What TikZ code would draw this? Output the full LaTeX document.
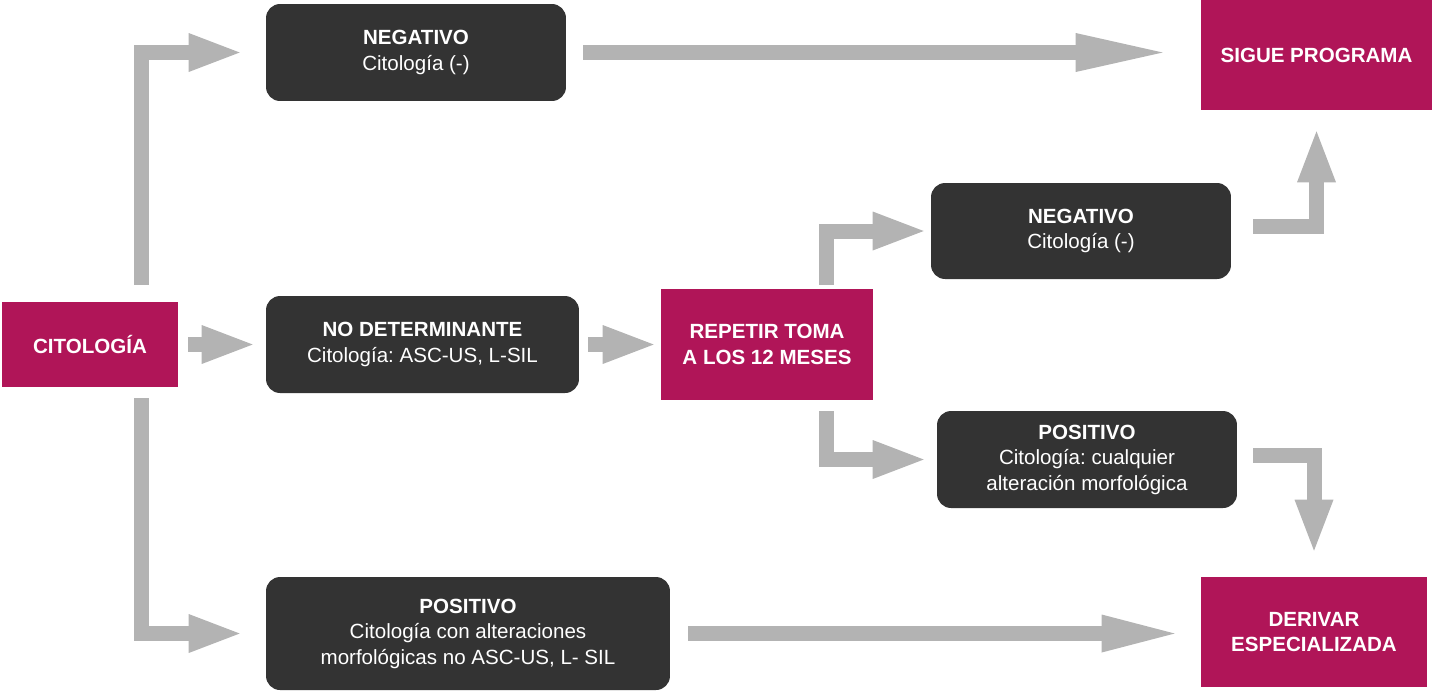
\documentclass[tikz,border=0pt]{standalone}
\usepackage{fontspec}
\setmainfont{Liberation Sans}
\usetikzlibrary{arrows.meta}
\definecolor{citomag}{RGB}{176,21,88}
\definecolor{boxdark}{RGB}{51,51,51}
\definecolor{arrgray}{RGB}{179,179,179}
\frenchspacing
\begin{document}
\begin{tikzpicture}[
  x=0.02cm, y=-0.02cm,
  result/.style={rectangle, rounded corners=0.28cm, fill=boxdark, text=white, align=center, inner sep=0pt, font=\fontsize{11.7}{14.5}\selectfont},
  action/.style={rectangle, fill=citomag, text=white, align=center, inner sep=0pt, font=\bfseries\fontsize{11.7}{14.5}\selectfont},
  flow/.style={color=arrgray, line width=0.3cm, line join=miter, -{Triangle[length=1.02cm, width=0.78cm, line width=0pt]}},
  longflow/.style={flow, -{Triangle[length=1.74cm, width=0.78cm, line width=0pt]}},
  midflow/.style={flow, -{Triangle[length=1.46cm, width=0.76cm, line width=0pt]}}
]
\useasboundingbox (0,0) rectangle (1439,691);

\node[action, minimum width=3.52cm, minimum height=1.7cm] (cito) at (90,344.5) {CITOLOGÍA};
\node[result, minimum width=6cm, minimum height=1.94cm] (neg1) at (416,52.5) {\textbf{NEGATIVO}\\Citología (-)};
\node[result, minimum width=6.26cm, minimum height=1.94cm] (nodet) at (422.5,344.5) {\textbf{NO DETERMINANTE}\\Citología: ASC-US, L-SIL};
\node[result, minimum width=8.08cm, minimum height=2.26cm] (pos1) at (468,633.5) {\textbf{POSITIVO}\\Citología con alteraciones\\morfológicas no ASC-US, L- SIL};
\node[action, minimum width=4.24cm, minimum height=2.22cm] (repetir) at (767,344.5) {REPETIR TOMA\\A LOS 12 MESES};
\node[result, minimum width=6cm, minimum height=1.92cm] (neg2) at (1081,231) {\textbf{NEGATIVO}\\Citología (-)};
\node[result, minimum width=6cm, minimum height=1.94cm] (pos2) at (1087,459.5) {\textbf{POSITIVO}\\Citología: cualquier\\alteración morfológica};
\node[action, minimum width=4.62cm, minimum height=2.2cm] (sigue) at (1316.5,55) {SIGUE PROGRAMA};
\node[action, minimum width=4.52cm, minimum height=2.2cm] (derivar) at (1314,632) {DERIVAR\\ESPECIALIZADA};

% Arrows from citologia
\draw[flow, shorten >=0.52cm] ([xshift=1.03cm, yshift=0.34cm]cito.north) |- (neg1.west);
\draw[flow, shorten <=0.2cm, shorten >=0.26cm] (cito) -- (nodet);
\draw[flow, shorten >=0.52cm] ([xshift=1.03cm, yshift=-0.22cm]cito.south) |- (pos1.west);

% Arrows to the results
\draw[longflow, shorten <=0.34cm, shorten >=0.76cm] (neg1.east) -- (neg1.east -| sigue.west);
\draw[flow, shorten <=0.18cm, shorten >=0.14cm] (nodet) -- (repetir);
\draw[flow, shorten >=0.14cm] ([xshift=1.19cm, yshift=0.08cm]repetir.north) |- (neg2.west);
\draw[flow, shorten >=0.26cm] ([xshift=1.19cm, yshift=-0.22cm]repetir.south) |- (pos2.west);
\draw[midflow, shorten <=0.36cm, shorten >=0.52cm] (pos1.east) -- (pos1.east -| derivar.west);
\draw[flow, shorten <=0.44cm, shorten >=0.42cm] ([yshift=0.09cm]neg2.east) -| (sigue.south);
\draw[flow, shorten <=0.32cm, shorten >=0.52cm] ([yshift=0.08cm]pos2.east) -| (derivar.north);

\end{tikzpicture}
\end{document}
